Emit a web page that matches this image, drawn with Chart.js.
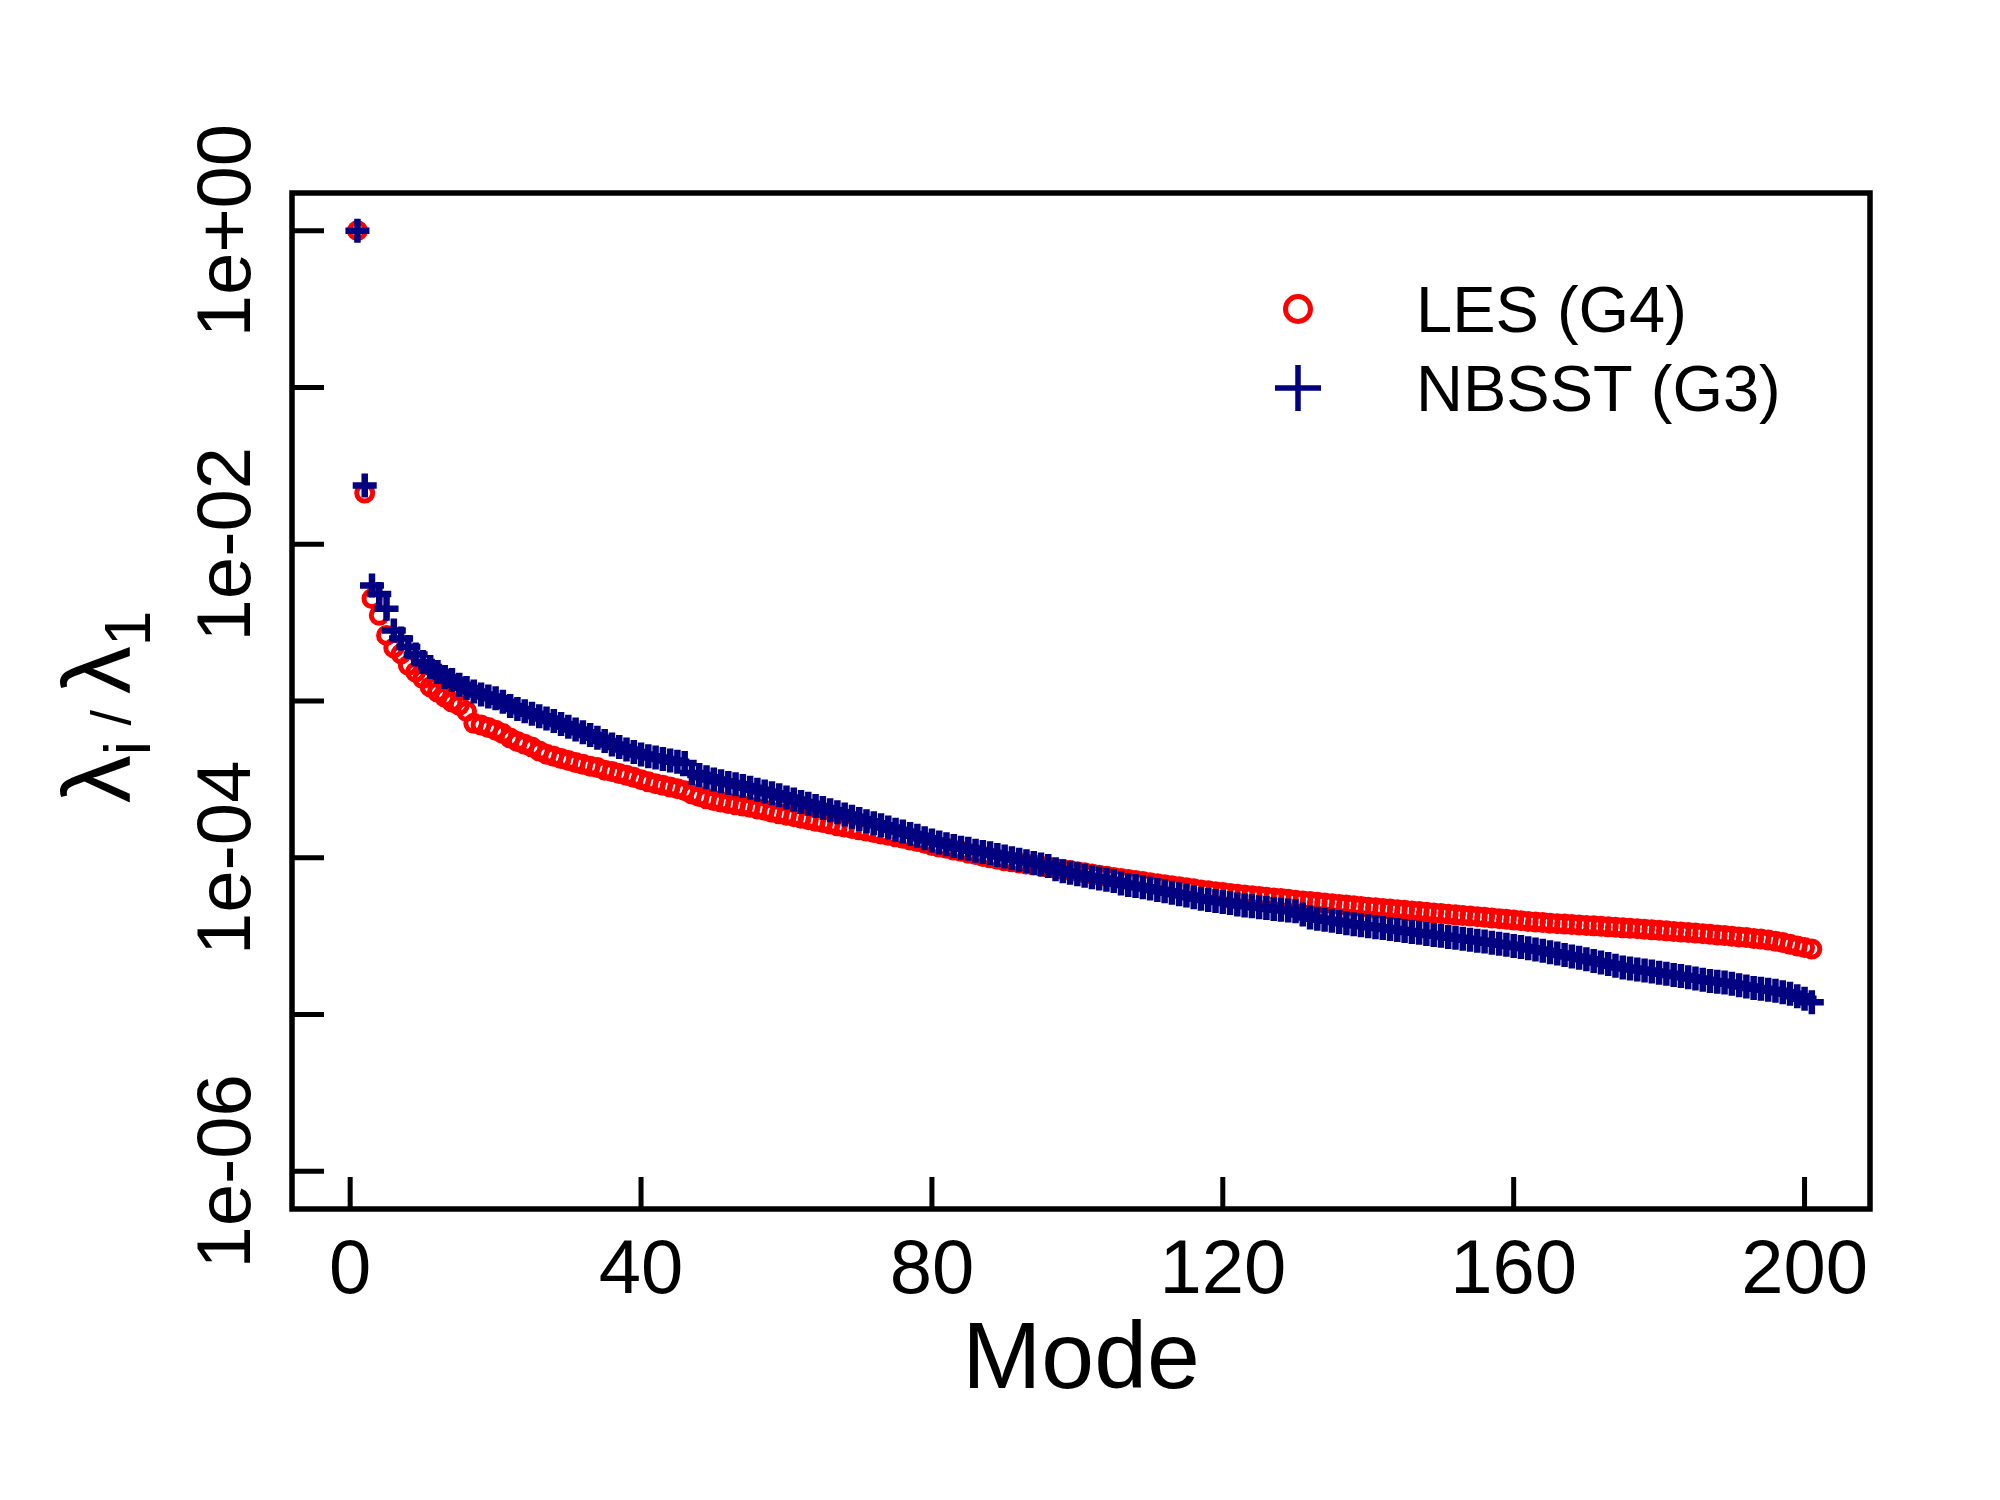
<!DOCTYPE html>
<html>
<head>
<meta charset="utf-8">
<script src="https://cdn.jsdelivr.net/npm/chart.js@4.4.1/dist/chart.umd.min.js"></script>
<style>
  html, body { margin: 0; padding: 0; background: #ffffff; }
  #wrap { width: 2000px; height: 1500px; }
</style>
</head>
<body>
<div id="wrap"><canvas id="chart" width="2000" height="1500"></canvas></div>
<script>
// eigenvalue ratio lambda_i / lambda_1 for modes 1..201
const modeCount = 201;
const modes = Array.from({ length: modeCount }, (_, i) => i + 1);

const lesValues = [
  1, 2.12e-2, 4.50e-3, 3.52e-3, 2.62e-3, 2.18e-3, 2.00e-3, 1.69e-3, 1.53e-3, 1.39e-3,
  1.23e-3, 1.14e-3, 1.06e-3, 9.86e-4, 9.40e-4, 8.60e-4, 7.20e-4, 7.02e-4, 6.78e-4, 6.52e-4,
  6.20e-4, 5.80e-4, 5.52e-4, 5.30e-4, 5.08e-4, 4.80e-4, 4.58e-4, 4.44e-4, 4.30e-4, 4.18e-4,
  4.05e-4, 3.95e-4, 3.84e-4, 3.76e-4, 3.62e-4, 3.55e-4, 3.45e-4, 3.36e-4, 3.26e-4, 3.15e-4,
  3.05e-4, 2.97e-4, 2.90e-4, 2.83e-4, 2.76e-4, 2.68e-4, 2.55e-4, 2.46e-4, 2.38e-4, 2.32e-4,
  2.27e-4, 2.22e-4, 2.18e-4, 2.14e-4, 2.10e-4, 2.05e-4, 2.01e-4, 1.95e-4, 1.91e-4, 1.87e-4,
  1.83e-4, 1.79e-4, 1.75e-4, 1.71e-4, 1.68e-4, 1.64e-4, 1.60e-4, 1.57e-4, 1.54e-4, 1.51e-4,
  1.48e-4, 1.45e-4, 1.42e-4, 1.39e-4, 1.36e-4, 1.33e-4, 1.30e-4, 1.27e-4, 1.24e-4, 1.20e-4,
  1.17e-4, 1.15e-4, 1.12e-4, 1.10e-4, 1.07e-4, 1.05e-4, 1.02e-4, 1.00e-4, 9.78e-5, 9.58e-5,
  9.42e-5, 9.28e-5, 9.12e-5, 8.98e-5, 8.84e-5, 8.70e-5, 8.56e-5, 8.42e-5, 8.30e-5, 8.16e-5,
  8.02e-5, 7.88e-5, 7.74e-5, 7.62e-5, 7.50e-5, 7.38e-5, 7.27e-5, 7.16e-5, 7.05e-5, 6.94e-5,
  6.84e-5, 6.74e-5, 6.64e-5, 6.54e-5, 6.44e-5, 6.34e-5, 6.24e-5, 6.16e-5, 6.08e-5, 6.00e-5,
  5.92e-5, 5.85e-5, 5.79e-5, 5.73e-5, 5.67e-5, 5.61e-5, 5.55e-5, 5.49e-5, 5.43e-5, 5.37e-5,
  5.31e-5, 5.26e-5, 5.20e-5, 5.15e-5, 5.10e-5, 5.04e-5, 4.99e-5, 4.94e-5, 4.89e-5, 4.84e-5,
  4.80e-5, 4.75e-5, 4.71e-5, 4.66e-5, 4.62e-5, 4.58e-5, 4.54e-5, 4.49e-5, 4.45e-5, 4.41e-5,
  4.37e-5, 4.33e-5, 4.29e-5, 4.25e-5, 4.21e-5, 4.17e-5, 4.13e-5, 4.09e-5, 4.05e-5, 4.01e-5,
  3.97e-5, 3.93e-5, 3.89e-5, 3.86e-5, 3.83e-5, 3.80e-5, 3.78e-5, 3.75e-5, 3.73e-5, 3.70e-5,
  3.68e-5, 3.66e-5, 3.63e-5, 3.61e-5, 3.58e-5, 3.55e-5, 3.53e-5, 3.50e-5, 3.47e-5, 3.45e-5,
  3.42e-5, 3.39e-5, 3.36e-5, 3.34e-5, 3.31e-5, 3.28e-5, 3.25e-5, 3.22e-5, 3.19e-5, 3.16e-5,
  3.13e-5, 3.10e-5, 3.06e-5, 3.03e-5, 2.99e-5, 2.94e-5, 2.88e-5, 2.81e-5, 2.74e-5, 2.68e-5,
  2.62e-5
];

const nbsstValues = [
  1, 2.37e-2, 5.46e-3, 4.82e-3, 3.88e-3, 2.82e-3, 2.50e-3, 2.21e-3, 1.98e-3, 1.77e-3,
  1.65e-3, 1.53e-3, 1.42e-3, 1.36e-3, 1.27e-3, 1.21e-3, 1.15e-3, 1.10e-3, 1.07e-3, 1.04e-3,
  9.90e-4, 9.30e-4, 8.90e-4, 8.60e-4, 8.30e-4, 7.98e-4, 7.73e-4, 7.45e-4, 7.14e-4, 6.85e-4,
  6.58e-4, 6.32e-4, 6.08e-4, 5.82e-4, 5.55e-4, 5.27e-4, 5.08e-4, 4.90e-4, 4.72e-4, 4.55e-4,
  4.45e-4, 4.36e-4, 4.27e-4, 4.18e-4, 4.10e-4, 4.02e-4, 3.48e-4, 3.37e-4, 3.26e-4, 3.16e-4,
  3.08e-4, 3.00e-4, 2.94e-4, 2.87e-4, 2.80e-4, 2.72e-4, 2.65e-4, 2.58e-4, 2.51e-4, 2.42e-4,
  2.35e-4, 2.27e-4, 2.21e-4, 2.14e-4, 2.08e-4, 2.01e-4, 1.95e-4, 1.89e-4, 1.83e-4, 1.77e-4,
  1.71e-4, 1.66e-4, 1.61e-4, 1.56e-4, 1.51e-4, 1.47e-4, 1.42e-4, 1.38e-4, 1.33e-4, 1.29e-4,
  1.25e-4, 1.22e-4, 1.19e-4, 1.16e-4, 1.14e-4, 1.11e-4, 1.09e-4, 1.07e-4, 1.04e-4, 1.02e-4,
  9.95e-5, 9.72e-5, 9.50e-5, 9.28e-5, 9.06e-5, 8.85e-5, 8.46e-5, 8.22e-5, 8.02e-5, 7.84e-5,
  7.67e-5, 7.52e-5, 7.38e-5, 7.24e-5, 7.10e-5, 6.86e-5, 6.70e-5, 6.60e-5, 6.48e-5, 6.36e-5,
  6.24e-5, 6.12e-5, 5.99e-5, 5.86e-5, 5.74e-5, 5.60e-5, 5.47e-5, 5.38e-5, 5.30e-5, 5.22e-5,
  5.14e-5, 5.04e-5, 4.96e-5, 4.90e-5, 4.84e-5, 4.78e-5, 4.72e-5, 4.66e-5, 4.61e-5, 4.56e-5,
  4.35e-5, 4.16e-5, 4.09e-5, 4.02e-5, 3.96e-5, 3.89e-5, 3.83e-5, 3.77e-5, 3.71e-5, 3.66e-5,
  3.61e-5, 3.56e-5, 3.51e-5, 3.46e-5, 3.41e-5, 3.36e-5, 3.32e-5, 3.27e-5, 3.22e-5, 3.18e-5,
  3.13e-5, 3.09e-5, 3.05e-5, 3.00e-5, 2.96e-5, 2.92e-5, 2.87e-5, 2.83e-5, 2.79e-5, 2.74e-5,
  2.70e-5, 2.65e-5, 2.60e-5, 2.55e-5, 2.50e-5, 2.45e-5, 2.40e-5, 2.35e-5, 2.30e-5, 2.25e-5,
  2.20e-5, 2.15e-5, 2.10e-5, 2.05e-5, 2.00e-5, 1.97e-5, 1.94e-5, 1.91e-5, 1.88e-5, 1.85e-5,
  1.82e-5, 1.79e-5, 1.76e-5, 1.73e-5, 1.70e-5, 1.67e-5, 1.64e-5, 1.62e-5, 1.60e-5, 1.57e-5,
  1.54e-5, 1.51e-5, 1.48e-5, 1.46e-5, 1.44e-5, 1.42e-5, 1.39e-5, 1.36e-5, 1.31e-5, 1.26e-5,
  1.20e-5
];

const seriesLabels = ["LES (G4)", "NBSST (G3)"];
const xTicks = [0, 40, 80, 120, 160, 200];
const yTicks = [1, 1e-1, 1e-2, 1e-3, 1e-4, 1e-5, 1e-6];
const yTickLabels = ["1e+00", "", "1e-02", "", "1e-04", "", "1e-06"];

const RED = "#ff0000";
const NAVY = "#000080";
const FONT = '"Liberation Sans", Arial, Helvetica, sans-serif';

function toPoints(values) {
  return values.map((v, i) => ({ x: modes[i], y: v }));
}

// R-style frame, inward ticks, labels and legend
const rFrame = {
  id: "rFrame",
  afterDraw(chart) {
    const { ctx, chartArea: a, scales } = chart;
    const xs = scales.x;
    const ys = scales.y;
    ctx.save();
    ctx.strokeStyle = "#000";
    ctx.fillStyle = "#000";
    ctx.lineWidth = 5.5;
    ctx.lineCap = "butt";
    ctx.strokeRect(a.left, a.top, a.right - a.left, a.bottom - a.top);

    // ticks point into the plot
    const tickLen = 32;
    ctx.lineWidth = 5;
    ctx.beginPath();
    xTicks.forEach((t) => {
      const px = xs.getPixelForValue(t);
      ctx.moveTo(px, a.bottom);
      ctx.lineTo(px, a.bottom - tickLen);
    });
    yTicks.forEach((t) => {
      const py = ys.getPixelForValue(t);
      ctx.moveTo(a.left, py);
      ctx.lineTo(a.left + tickLen, py);
    });
    ctx.stroke();

    // x tick labels
    ctx.font = "76px " + FONT;
    ctx.textAlign = "center";
    ctx.textBaseline = "alphabetic";
    xTicks.forEach((t) => {
      ctx.fillText(String(t), xs.getPixelForValue(t), a.bottom + 84);
    });

    // y tick labels, rotated
    yTicks.forEach((t, i) => {
      if (!yTickLabels[i]) return;
      ctx.save();
      ctx.translate(a.left - 42, ys.getPixelForValue(t));
      ctx.rotate(-Math.PI / 2);
      ctx.fillText(yTickLabels[i], 0, 0);
      ctx.restore();
    });

    // x title
    ctx.font = "95px " + FONT;
    ctx.fillText("Mode", (a.left + a.right) / 2, a.bottom + 179);

    // y title: lambda_i / lambda_1
    const parts = [
      { t: "\u03bb", size: 96, dy: 0 },
      { t: "i", size: 64, dy: 20 },
      { t: " / ", size: 56, dy: 0 },
      { t: "\u03bb", size: 96, dy: 0 },
      { t: "1", size: 64, dy: 20 }
    ];
    let total = 0;
    parts.forEach((p) => {
      ctx.font = p.size + "px " + FONT;
      p.w = ctx.measureText(p.t).width;
      total += p.w;
    });
    ctx.save();
    ctx.translate(130, (a.top + a.bottom) / 2 + 6);
    ctx.rotate(-Math.PI / 2);
    ctx.textAlign = "left";
    let cx = -total / 2;
    parts.forEach((p) => {
      ctx.font = p.size + "px " + FONT;
      ctx.fillText(p.t, cx, p.dy);
      cx += p.w;
    });
    ctx.restore();

    // legend
    const lx = 1298;
    const rows = [309, 388];
    ctx.lineWidth = 5;
    ctx.strokeStyle = RED;
    ctx.beginPath();
    ctx.arc(lx, rows[0], 12.5, 0, Math.PI * 2);
    ctx.stroke();
    ctx.strokeStyle = NAVY;
    ctx.lineWidth = 5.5;
    ctx.beginPath();
    ctx.moveTo(lx - 23, rows[1]);
    ctx.lineTo(lx + 23, rows[1]);
    ctx.moveTo(lx, rows[1] - 23);
    ctx.lineTo(lx, rows[1] + 23);
    ctx.stroke();
    ctx.font = "65px " + FONT;
    ctx.textAlign = "left";
    ctx.fillStyle = "#000";
    chart.data.datasets.forEach((ds, i) => {
      ctx.fillText(ds.label, 1416, rows[i] + 23);
    });
    ctx.restore();
  }
};

new Chart(document.getElementById("chart"), {
  type: "scatter",
  data: {
    datasets: [
      {
        label: seriesLabels[0],
        data: toPoints(lesValues),
        pointStyle: "circle",
        pointRadius: 8,
        borderWidth: 5,
        borderColor: RED,
        backgroundColor: "rgba(0,0,0,0)",
        order: 1
      },
      {
        label: seriesLabels[1],
        data: toPoints(nbsstValues),
        pointStyle: "cross",
        pointRadius: 12,
        borderWidth: 6.5,
        borderColor: NAVY,
        backgroundColor: NAVY,
        order: 0
      }
    ]
  },
  plugins: [rFrame],
  options: {
    responsive: false,
    devicePixelRatio: 1,
    animation: false,
    layout: { padding: { left: 292, top: 193, right: 130, bottom: 291 } },
    plugins: {
      legend: { display: false },
      tooltip: { enabled: false }
    },
    scales: {
      x: { type: "linear", min: -8, max: 209, display: false },
      y: { type: "logarithmic", min: 5.754e-7, max: 1.738, display: false }
    }
  }
});
</script>
</body>
</html>
